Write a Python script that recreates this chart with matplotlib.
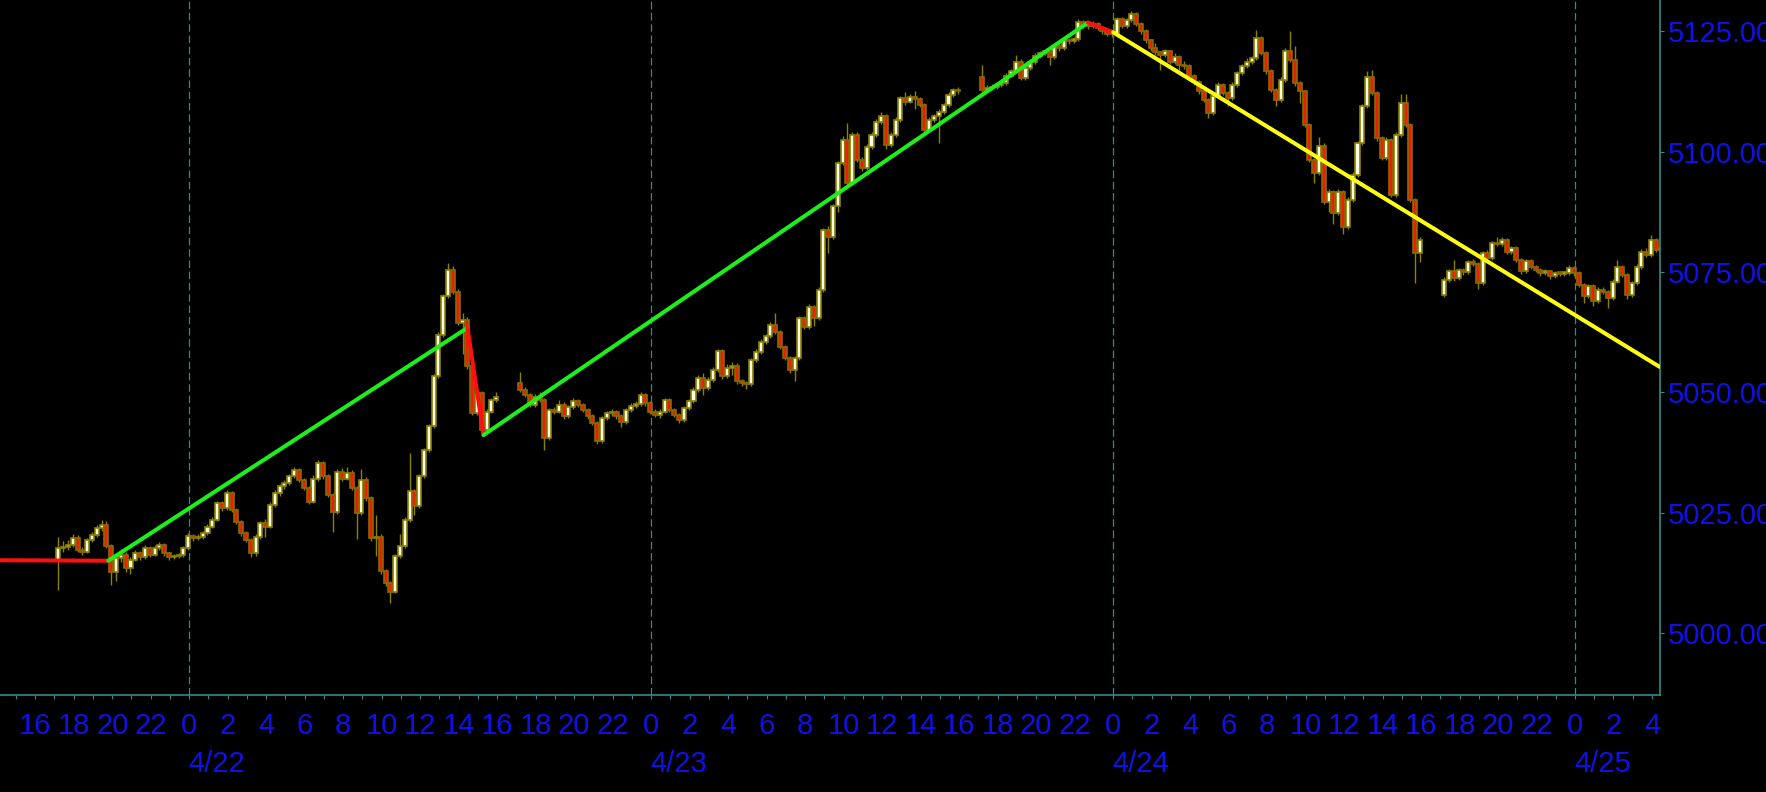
import numpy as np
import matplotlib
matplotlib.use("Agg")
import matplotlib.pyplot as plt
from matplotlib import transforms

# 15 minute bars (Central time). x axis = hours counted from 4/22 00:00
session_start = [-7.0, 17.0, 41.0, 65.0]   # 4/21 17:00, 4/22 17:00, 4/23 17:00, 4/24 17:00
session_bars = [92, 92, 92, 46]

opens = [
    # session 4/21 17:00 - 4/22 16:00
    5015.2, 5017.6, 5017.9, 5018.3, 5019.7, 5017.2, 5016.9, 5019.3,
    5020.4, 5021.7, 5022.4, 5018.0, 5012.7, 5015.5, 5016.2, 5013.4,
    5015.2, 5016.5, 5015.8, 5017.6, 5016.2, 5017.6, 5018.3, 5016.5,
    5015.7, 5015.9, 5016.2, 5017.6, 5020.2, 5019.7, 5020.0, 5020.7,
    5022.1, 5023.5, 5026.9, 5025.9, 5029.0, 5025.6, 5023.1, 5020.7,
    5019.3, 5016.5, 5020.0, 5022.8, 5022.1, 5026.6, 5029.0, 5030.5,
    5031.1, 5032.5, 5033.9, 5031.8, 5030.1, 5027.3, 5032.0, 5035.3,
    5032.5, 5028.7, 5025.2, 5033.5, 5032.0, 5033.2, 5030.1, 5024.9,
    5031.8, 5028.0, 5019.7, 5020.0, 5012.8, 5010.3, 5008.6, 5015.9,
    5018.0, 5023.5, 5029.5, 5026.3, 5032.5, 5038.0, 5042.9, 5053.3,
    5061.9, 5069.9, 5075.4, 5070.9, 5064.4, 5065.1, 5055.4, 5045.7,
    5049.8, 5042.2, 5046.0, 5048.4,
    # session 4/22 17:00 - 4/23 16:00
    5051.9, 5050.5, 5049.5, 5047.4, 5049.1, 5048.4, 5040.5, 5046.3,
    5046.0, 5047.4, 5045.0, 5046.9, 5048.1, 5047.4, 5046.3, 5045.0,
    5043.6, 5039.8, 5044.6, 5045.6, 5046.0, 5045.0, 5043.9, 5046.3,
    5047.2, 5047.6, 5049.5, 5047.7, 5046.0, 5045.3, 5046.0, 5048.4,
    5046.3, 5045.3, 5044.3, 5046.7, 5048.1, 5050.5, 5052.9, 5050.8,
    5052.6, 5054.7, 5058.5, 5053.3, 5055.0, 5055.5, 5052.3, 5051.9,
    5051.7, 5056.7, 5058.4, 5060.5, 5061.6, 5064.0, 5062.6, 5059.5,
    5057.1, 5054.6, 5057.1, 5065.4, 5063.6, 5067.8, 5065.4, 5071.3,
    5083.7, 5082.3, 5088.6, 5097.6, 5102.4, 5093.4, 5103.5, 5098.3,
    5096.5, 5101.0, 5103.5, 5106.2, 5107.4, 5101.4, 5103.5, 5106.6,
    5111.1, 5110.4, 5111.4, 5110.9, 5109.7, 5104.5, 5106.6, 5107.3,
    5108.3, 5109.7, 5111.8, 5112.7,
    # session 4/23 17:00 - 4/24 16:00
    5115.6, 5112.8, 5113.2, 5113.5, 5113.8, 5114.2, 5115.8, 5116.7,
    5118.7, 5115.3, 5117.4, 5118.7, 5119.9, 5120.5, 5120.6, 5119.6,
    5121.9, 5121.5, 5123.1, 5122.9, 5123.4, 5127.0, 5126.2, 5126.0,
    5126.6, 5125.7, 5125.0, 5124.5, 5124.4, 5127.5, 5126.1, 5127.3,
    5128.6, 5126.6, 5125.0, 5123.1, 5121.5, 5120.6, 5120.1, 5120.8,
    5118.7, 5119.6, 5118.0, 5117.7, 5115.8, 5114.4, 5112.5, 5110.8,
    5108.0, 5111.5, 5113.9, 5112.2, 5111.1, 5113.9, 5116.3, 5117.7,
    5118.7, 5119.4, 5123.6, 5120.5, 5116.7, 5112.9, 5110.8, 5114.9,
    5120.8, 5119.1, 5114.2, 5112.5, 5105.6, 5098.3, 5095.5, 5101.1,
    5089.6, 5091.7, 5087.2, 5091.7, 5084.4, 5090.0, 5095.2, 5101.8,
    5109.4, 5115.5, 5112.2, 5102.8, 5098.7, 5102.5, 5091.0, 5103.5,
    5110.1, 5105.6, 5090.0, 5078.9,
    # session 4/24 17:00 - 4/25 04:30
    5070.2, 5073.4, 5075.1, 5073.7, 5075.4, 5074.9, 5077.0, 5076.7,
    5072.7, 5078.9, 5077.9, 5081.0, 5080.8, 5081.7, 5079.2, 5079.9,
    5077.5, 5075.1, 5077.2, 5076.1, 5075.4, 5074.7, 5075.1, 5074.1,
    5074.7, 5074.6, 5074.7, 5075.8, 5074.7, 5072.3, 5069.9, 5072.0,
    5068.9, 5071.3, 5070.9, 5069.5, 5073.0, 5076.1, 5074.4, 5070.2,
    5072.7, 5076.1, 5079.2, 5078.6, 5081.7, 5079.6,
]

closes = [
    5017.6, 5017.9, 5018.3, 5019.7, 5017.2, 5016.9, 5019.3, 5020.4,
    5021.7, 5022.4, 5018.0, 5012.7, 5015.5, 5016.2, 5013.4, 5015.2,
    5016.5, 5015.8, 5017.6, 5016.2, 5017.6, 5018.3, 5016.5, 5015.7,
    5015.9, 5016.2, 5017.6, 5020.2, 5019.7, 5020.0, 5020.7, 5022.1,
    5023.5, 5026.9, 5025.9, 5029.0, 5025.6, 5023.1, 5020.7, 5019.3,
    5016.5, 5020.0, 5022.8, 5022.1, 5026.6, 5029.0, 5030.5, 5031.1,
    5032.5, 5033.9, 5031.8, 5030.1, 5027.3, 5032.0, 5035.3, 5032.5,
    5028.7, 5025.2, 5033.5, 5032.0, 5033.2, 5030.1, 5024.9, 5031.8,
    5028.0, 5019.7, 5020.0, 5012.8, 5010.3, 5008.6, 5015.9, 5018.0,
    5023.5, 5029.5, 5026.3, 5032.5, 5038.0, 5042.9, 5053.3, 5061.9,
    5069.9, 5075.4, 5070.9, 5064.4, 5065.1, 5055.4, 5045.7, 5049.8,
    5042.2, 5046.0, 5048.4, 5049.1,

    5050.5, 5049.5, 5047.4, 5049.1, 5048.4, 5040.5, 5046.3, 5046.0,
    5047.4, 5045.0, 5046.9, 5048.1, 5047.4, 5046.3, 5045.0, 5043.6,
    5039.8, 5044.6, 5045.6, 5046.0, 5045.0, 5043.9, 5046.3, 5047.2,
    5047.6, 5049.5, 5047.7, 5046.0, 5045.3, 5046.0, 5048.4, 5046.3,
    5045.3, 5044.3, 5046.7, 5048.1, 5050.5, 5052.9, 5050.8, 5052.6,
    5054.7, 5058.5, 5053.3, 5055.0, 5055.5, 5052.3, 5051.9, 5051.7,
    5056.7, 5058.4, 5060.5, 5061.6, 5064.0, 5062.6, 5059.5, 5057.1,
    5054.6, 5057.1, 5065.4, 5063.6, 5067.8, 5065.4, 5071.3, 5083.7,
    5082.3, 5088.6, 5097.6, 5102.4, 5093.4, 5103.5, 5098.3, 5096.5,
    5101.0, 5103.5, 5106.2, 5107.4, 5101.4, 5103.5, 5106.6, 5111.1,
    5110.4, 5111.4, 5110.9, 5109.7, 5104.5, 5106.6, 5107.3, 5108.3,
    5109.7, 5111.8, 5112.7, 5112.5,

    5112.8, 5113.2, 5113.5, 5113.8, 5114.2, 5115.8, 5116.7, 5118.7,
    5115.3, 5117.4, 5118.7, 5119.9, 5120.5, 5120.6, 5119.6, 5121.9,
    5121.5, 5123.1, 5122.9, 5123.4, 5127.0, 5126.2, 5126.0, 5126.6,
    5125.7, 5125.0, 5124.5, 5124.4, 5127.5, 5126.1, 5127.3, 5128.6,
    5126.6, 5125.0, 5123.1, 5121.5, 5120.6, 5120.1, 5120.8, 5118.7,
    5119.6, 5118.0, 5117.7, 5115.8, 5114.4, 5112.5, 5110.8, 5108.0,
    5111.5, 5113.9, 5112.2, 5111.1, 5113.9, 5116.3, 5117.7, 5118.7,
    5119.4, 5123.6, 5120.5, 5116.7, 5112.9, 5110.8, 5114.9, 5120.8,
    5119.1, 5114.2, 5112.5, 5105.6, 5098.3, 5095.5, 5101.1, 5089.6,
    5091.7, 5087.2, 5091.7, 5084.4, 5090.0, 5095.2, 5101.8, 5109.4,
    5115.5, 5112.2, 5102.8, 5098.7, 5102.5, 5091.0, 5103.5, 5110.1,
    5105.6, 5090.0, 5078.9, 5081.7,

    5073.4, 5075.1, 5073.7, 5075.4, 5074.9, 5077.0, 5076.7, 5072.7,
    5078.9, 5077.9, 5081.0, 5080.8, 5081.7, 5079.2, 5079.9, 5077.5,
    5075.1, 5077.2, 5076.1, 5075.4, 5074.7, 5075.1, 5074.1, 5074.7,
    5074.6, 5074.7, 5075.8, 5074.7, 5072.3, 5069.9, 5072.0, 5068.9,
    5071.3, 5070.9, 5069.5, 5073.0, 5076.1, 5074.4, 5070.2, 5072.7,
    5076.1, 5079.2, 5078.6, 5081.7, 5079.6, 5079.7,
]

highs = [
    5020.0, 5019.0, 5019.3, 5020.6, 5020.3, 5017.8, 5019.8, 5021.0,
    5022.5, 5023.5, 5023.3, 5018.5, 5016.6, 5017.4, 5016.8, 5015.8,
    5017.2, 5017.0, 5018.2, 5018.0, 5018.3, 5018.9, 5018.7, 5016.9,
    5016.4, 5016.7, 5018.0, 5020.8, 5020.6, 5020.5, 5021.2, 5022.6,
    5024.0, 5027.5, 5027.4, 5029.6, 5029.5, 5026.0, 5023.5, 5021.2,
    5019.8, 5020.6, 5023.3, 5023.6, 5027.1, 5029.6, 5031.0, 5031.8,
    5033.0, 5034.4, 5034.3, 5032.2, 5030.5, 5032.8, 5036.0, 5035.8,
    5033.0, 5029.1, 5034.0, 5034.3, 5034.5, 5033.8, 5030.6, 5034.0,
    5032.3, 5028.4, 5024.5, 5020.5, 5013.2, 5010.8, 5016.4, 5020.5,
    5024.0, 5037.3, 5030.0, 5033.0, 5038.5, 5043.4, 5053.8, 5062.5,
    5070.5, 5076.8, 5076.3, 5071.4, 5066.5, 5065.6, 5055.9, 5050.3,
    5050.2, 5046.5, 5048.9, 5050.0,

    5054.3, 5051.0, 5049.9, 5049.6, 5050.0, 5048.9, 5046.8, 5047.0,
    5048.4, 5047.9, 5047.4, 5048.9, 5048.6, 5047.8, 5046.7, 5045.4,
    5044.0, 5045.1, 5046.1, 5046.6, 5046.4, 5045.5, 5046.8, 5047.7,
    5048.1, 5050.0, 5049.9, 5048.1, 5046.5, 5046.5, 5048.9, 5048.8,
    5046.7, 5045.7, 5047.2, 5048.6, 5051.0, 5053.5, 5054.0, 5053.1,
    5055.2, 5059.0, 5059.0, 5055.8, 5056.3, 5056.0, 5052.8, 5052.4,
    5057.2, 5058.9, 5061.0, 5062.1, 5064.5, 5066.4, 5063.0, 5059.9,
    5057.5, 5057.6, 5065.9, 5065.9, 5068.3, 5068.2, 5071.8, 5084.2,
    5084.5, 5089.1, 5098.1, 5103.2, 5105.9, 5104.0, 5104.0, 5098.8,
    5101.5, 5104.0, 5106.7, 5108.3, 5107.8, 5104.0, 5107.1, 5111.6,
    5112.4, 5112.0, 5112.5, 5111.4, 5110.1, 5107.1, 5107.8, 5108.8,
    5110.2, 5112.3, 5113.2, 5113.4,

    5118.0, 5113.8, 5114.0, 5114.3, 5114.7, 5116.3, 5117.2, 5120.0,
    5119.2, 5117.9, 5119.2, 5120.4, 5121.0, 5121.1, 5121.0, 5122.4,
    5122.6, 5123.6, 5123.6, 5123.9, 5127.6, 5127.4, 5126.8, 5127.1,
    5127.0, 5126.1, 5125.4, 5125.0, 5128.0, 5127.9, 5127.8, 5129.2,
    5129.0, 5127.0, 5125.4, 5123.5, 5122.5, 5121.0, 5121.3, 5121.2,
    5120.5, 5120.0, 5118.8, 5118.1, 5116.2, 5114.8, 5112.9, 5111.2,
    5112.0, 5114.4, 5114.3, 5112.6, 5114.4, 5116.8, 5118.2, 5119.5,
    5119.9, 5125.3, 5124.0, 5120.9, 5117.1, 5113.3, 5115.4, 5121.5,
    5125.0, 5122.0, 5114.6, 5112.9, 5106.0, 5098.7, 5103.0, 5101.8,
    5092.2, 5092.1, 5092.2, 5092.1, 5090.5, 5095.7, 5102.3, 5109.9,
    5116.7, 5117.0, 5112.6, 5103.2, 5103.0, 5102.9, 5104.0, 5112.0,
    5112.0, 5106.0, 5090.4, 5082.2,

    5074.0, 5075.6, 5077.5, 5075.9, 5075.9, 5077.5, 5077.6, 5077.1,
    5079.4, 5079.5, 5081.5, 5082.2, 5082.2, 5082.1, 5080.4, 5080.3,
    5077.9, 5077.7, 5077.6, 5076.5, 5075.8, 5075.6, 5075.5, 5075.2,
    5075.1, 5075.2, 5076.5, 5076.2, 5075.1, 5072.7, 5072.5, 5072.4,
    5071.8, 5071.8, 5071.3, 5073.5, 5077.5, 5076.5, 5074.8, 5073.2,
    5076.6, 5079.7, 5080.0, 5082.6, 5082.1, 5080.4,
]

lows = [
    5009.0, 5016.8, 5017.2, 5017.9, 5016.8, 5016.2, 5016.5, 5018.9,
    5020.0, 5021.2, 5017.6, 5010.0, 5010.8, 5014.8, 5012.6, 5012.3,
    5014.9, 5015.2, 5015.4, 5015.8, 5015.9, 5017.2, 5016.0, 5015.2,
    5015.3, 5015.5, 5015.8, 5017.3, 5019.2, 5019.3, 5019.6, 5020.4,
    5021.8, 5023.2, 5025.4, 5025.6, 5025.2, 5022.7, 5020.2, 5018.8,
    5015.8, 5016.0, 5019.6, 5020.0, 5021.7, 5026.2, 5028.5, 5030.0,
    5030.8, 5032.1, 5031.4, 5029.6, 5026.8, 5027.0, 5031.6, 5032.0,
    5028.2, 5021.0, 5024.8, 5031.6, 5031.7, 5029.6, 5019.6, 5024.5,
    5027.5, 5019.2, 5016.0, 5012.3, 5009.8, 5006.2, 5008.2, 5015.5,
    5017.6, 5023.1, 5024.5, 5025.9, 5032.1, 5037.6, 5042.5, 5052.9,
    5061.5, 5069.5, 5070.4, 5063.9, 5058.0, 5054.9, 5045.2, 5045.3,
    5041.5, 5041.8, 5045.6, 5048.0,

    5050.0, 5049.0, 5046.9, 5047.0, 5047.9, 5038.0, 5040.1, 5045.5,
    5045.6, 5044.5, 5044.6, 5046.5, 5046.9, 5045.8, 5044.5, 5043.1,
    5039.3, 5039.4, 5044.2, 5045.1, 5044.5, 5042.8, 5043.5, 5045.9,
    5046.8, 5047.2, 5047.2, 5045.5, 5044.8, 5044.6, 5045.6, 5045.8,
    5044.8, 5043.6, 5043.9, 5046.3, 5047.7, 5050.1, 5049.5, 5050.4,
    5052.2, 5054.3, 5052.8, 5052.9, 5053.5, 5051.8, 5051.4, 5050.6,
    5051.3, 5056.3, 5058.0, 5060.1, 5061.2, 5062.1, 5059.0, 5056.6,
    5054.1, 5052.4, 5056.7, 5063.1, 5063.2, 5063.8, 5065.0, 5070.9,
    5079.0, 5081.9, 5087.5, 5097.2, 5093.0, 5093.0, 5097.8, 5096.0,
    5096.1, 5100.6, 5103.1, 5105.8, 5100.5, 5101.0, 5103.1, 5106.2,
    5109.6, 5110.0, 5108.9, 5109.2, 5104.0, 5104.1, 5106.2, 5101.8,
    5107.9, 5109.3, 5111.4, 5112.0,

    5112.3, 5112.3, 5112.8, 5113.1, 5113.4, 5113.8, 5115.4, 5116.3,
    5114.8, 5114.9, 5117.0, 5118.3, 5119.5, 5120.1, 5118.0, 5119.2,
    5121.0, 5121.1, 5122.4, 5122.5, 5123.0, 5125.7, 5125.5, 5125.6,
    5125.2, 5124.5, 5124.0, 5123.9, 5124.0, 5125.6, 5125.7, 5126.9,
    5126.1, 5124.5, 5122.6, 5121.0, 5120.1, 5117.0, 5119.7, 5118.2,
    5118.3, 5117.0, 5117.2, 5115.3, 5113.9, 5112.0, 5110.3, 5107.0,
    5107.6, 5111.1, 5111.7, 5109.5, 5110.7, 5113.5, 5115.9, 5117.3,
    5118.3, 5119.0, 5120.0, 5116.2, 5112.4, 5109.4, 5110.4, 5114.5,
    5118.6, 5113.7, 5110.0, 5105.1, 5097.8, 5093.5, 5095.1, 5089.1,
    5087.5, 5085.0, 5086.8, 5082.8, 5084.0, 5089.6, 5094.8, 5101.4,
    5109.0, 5111.7, 5102.3, 5098.2, 5098.3, 5090.5, 5090.6, 5103.1,
    5105.1, 5089.5, 5072.7, 5077.0,

    5069.8, 5073.0, 5073.2, 5073.3, 5074.4, 5074.5, 5076.2, 5071.5,
    5072.3, 5077.4, 5077.5, 5080.3, 5080.4, 5078.7, 5078.8, 5077.0,
    5074.6, 5074.7, 5075.6, 5074.9, 5074.2, 5074.3, 5073.6, 5073.7,
    5074.1, 5074.2, 5074.3, 5074.2, 5071.8, 5068.5, 5069.5, 5068.0,
    5068.5, 5070.4, 5067.5, 5069.1, 5072.6, 5073.9, 5069.3, 5069.8,
    5072.3, 5075.7, 5078.1, 5078.2, 5079.1, 5079.2,
]

# zigzag swing points (hour, price) and the colour of each leg
zz_x = [-9.83, -4.2, 14.46, 15.29, 46.7, 48.0, 76.39]
zz_y = [5015.1, 5015.0, 5063.4, 5041.1, 5126.8, 5124.8, 5055.3]
zz_colors = ['#ff1010', '#1cf01c', '#ff1010', '#1cf01c', '#ff1010', '#ffff10']

day_hours = [0, 24, 48, 72]
day_labels = ['4/22', '4/23', '4/24', '4/25']
price_ticks = [5000, 5025, 5050, 5075, 5100, 5125]

teal = '#2f8c8c'
blue = '#1010e8'
plt.rcParams['font.family'] = ['Liberation Sans', 'DejaVu Sans']

fig = plt.figure(figsize=(17.66, 7.92), dpi=100, facecolor='black')
ax = fig.add_axes([0, 97 / 792, 1659.5 / 1766, 695 / 792], facecolor='black')

# bar positions from session start + 15 min steps
x = np.concatenate([s + 0.25 * np.arange(n) + 0.2 for s, n in zip(session_start, session_bars)])
o = np.array(opens)
c = np.array(closes)
h = np.array(highs)
l = np.array(lows)
up = c >= o

ax.vlines(x, l, h, color='#8a8200', lw=1.0, zorder=2)
body_lo = np.minimum(o, c)
body_h = np.maximum(np.abs(c - o), 0.3)
ax.bar(x[up], body_h[up], bottom=body_lo[up], width=0.21, color='#fffde6',
       edgecolor='#8a8200', linewidth=1.2, zorder=3)
ax.bar(x[~up], body_h[~up], bottom=body_lo[~up], width=0.21, color='#f21a00',
       edgecolor='#8a6a00', linewidth=1.2, zorder=3)

for i in range(len(zz_colors)):
    ax.plot(zz_x[i:i + 2], zz_y[i:i + 2], color=zz_colors[i], lw=2.9,
            solid_capstyle='round', zorder=4)

for d in day_hours:
    ax.axvline(d, color=teal, lw=0.9, ls=(0, (6, 3)), zorder=1)

ax.set_xlim(-9.83, 76.39)
ax.set_ylim(4987.1, 5131.5)

for side in ['top', 'left']:
    ax.spines[side].set_visible(False)
for side in ['bottom', 'right']:
    ax.spines[side].set_color(teal)
    ax.spines[side].set_linewidth(1.2)

ax.yaxis.tick_right()
ax.set_yticks(price_ticks)
ax.set_yticklabels([f'{v:.3f}' for v in price_ticks])
ax.tick_params(axis='y', colors=teal, labelcolor=blue, length=3, pad=3, labelsize=21)

ax.set_xticks(np.arange(-9, 77, 1))
ax.set_xticklabels([])
ax.tick_params(axis='x', colors=teal, length=3)

# hour and date labels under the axis
trans = transforms.blended_transform_factory(ax.transData, fig.transFigure)
for hr in range(-8, 77, 2):
    ax.text(hr, 1 - 734 / 792, str(hr % 24), transform=trans, ha='center',
            va='baseline', color=blue, fontsize=21)
for d, lab in zip(day_hours, day_labels):
    ax.text(d - 0.05, 1 - 772 / 792, lab, transform=trans, ha='left',
            va='baseline', color=blue, fontsize=21)

fig.savefig('out.png', dpi=100, facecolor='black')
